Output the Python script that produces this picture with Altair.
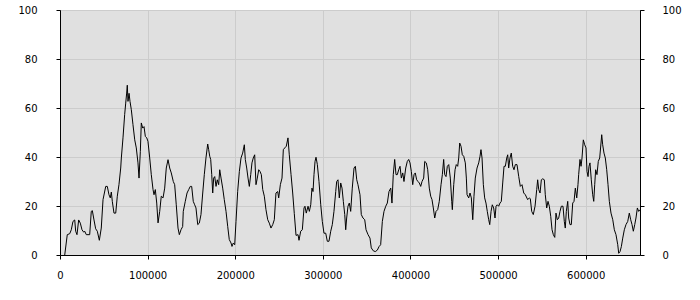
import altair as alt
import pandas as pd

xs = [5400, 8300, 11100, 12900, 14800, 16800, 17900, 19400, 21300, 23200, 25100, 27100, 28200, 30000, 33900,
      35700, 36900, 38800, 40700, 42600, 44900, 47100, 49100, 52200, 54000, 55900, 57400, 58600, 59700, 61600,
      63600, 65400, 67300, 69300, 70000, 71900, 73800, 75000, 76100, 76800, 77600, 78800, 79900, 81400, 83300,
      85300, 87100, 89000, 90200, 91700, 92800, 94400, 95900, 97400, 99000, 100400, 102400, 104200, 106200, 107300,
      108800, 110400, 111900, 113800, 115600, 117600, 119500, 121300, 123300, 125200, 127000, 129300, 130900, 132700, 134700,
      136200, 138100, 140000, 140700, 143000, 145000, 146900, 148700, 150300, 152100, 153700, 155200, 157200, 159000, 160900,
      162900, 164700, 166600, 168600, 169700, 170900, 172000, 173200, 174300, 175400, 176600, 178100, 179500, 181100, 182300,
      183800, 185700, 187500, 189500, 191400, 193200, 195200, 196300, 197800, 199400, 200900, 202800, 204700, 206600, 208500,
      210400, 211500, 213100, 214600, 216100, 217700, 219100, 220600, 222200, 223700, 225200, 226800, 228300, 229800, 231400,
      233200, 235100, 237100, 238900, 240800, 242800, 244600, 246500, 248500, 249600, 251500, 253400, 254900, 256500, 258300,
      260200, 261700, 263700, 265600, 267400, 269400, 271700, 272800, 274700, 276600, 278500, 279600, 281100, 283100, 284600,
      286200, 287600, 288800, 289900, 291100, 292200, 293700, 295600, 297600, 299400, 301300, 303300, 305100, 307000, 309000,
      310800, 312700, 314700, 315800, 317300, 318800, 320400, 321900, 323400, 325000, 326100, 327200, 328700, 330200, 331800,
      333600, 335600, 337100, 338700, 340100, 342400, 343900, 345800, 347800, 349300, 351600, 353800, 355300, 357600, 359900,
      362200, 364100, 366000, 367900, 369800, 371800, 373600, 375500, 377500, 378900, 380400, 382000, 383500, 385000, 386600,
      388100, 389600, 391200, 392600, 394600, 396400, 398000, 399500, 401000, 402600, 404100, 405500, 407100, 408600, 410100,
      411700, 413200, 415100, 416300, 418100, 419700, 421500, 423100, 424600, 426100, 427700, 429200, 431100, 432900, 434900,
      436400, 437900, 439100, 440600, 442100, 443700, 445500, 447100, 447800, 449400, 450900, 452300, 453900, 455100, 456200,
      457700, 459200, 460800, 462600, 463800, 464600, 466500, 468000, 469500, 471100, 472500, 474000, 476000, 477900, 479400,
      480500, 481700, 483200, 484700, 486200, 487700, 489300, 490500, 492000, 493400, 495000, 496500, 497700, 499100, 500700,
      502200, 503700, 505300, 506800, 508300, 509900, 511000, 512100, 513600, 515100, 516700, 518200, 519700, 521600, 523600,
      525400, 527300, 529300, 531100, 533800, 535700, 536800, 538400, 540200, 542200, 544100, 545200, 546400, 547900, 549400,
      551000, 552800, 553900, 555500, 557000, 558500, 560100, 561600, 563100, 564700, 566100, 567600, 569200, 570700, 572200,
      574100, 575600, 576700, 577900, 579500, 580600, 582100, 583600, 585200, 586700, 588200, 589800, 591200, 592000, 593500,
      594700, 595800, 597300, 598900, 600400, 601500, 602700, 603800, 604900, 606400, 608000, 609200, 610300, 611400, 612900,
      614400, 616000, 617500, 618300, 619400, 620900, 622400, 624000, 625500, 627000, 628900, 630900, 632700, 634600, 636600,
      637700, 639200, 640700, 642300, 644100, 646000, 648000, 649800, 651400, 652900, 654400, 656000, 657400, 659000, 660500,
      662000]

ys = [0, 8.3, 8.7, 10.3, 13.7, 14.3, 9.7, 8.3, 14.3, 13, 10.3, 9.3, 9.7, 8.3, 8.3,
      17.8, 18.1, 14.3, 10.7, 9.7, 6, 11, 22.6, 28, 28, 24.6, 23.3, 25.7, 21.9, 17.1,
      17.1, 24, 28.7, 35.5, 39.6, 47.8, 57.3, 62, 66.1, 69.3, 62.7, 66, 62.7, 59.3, 53.2,
      47, 43.7, 37.6, 31.4, 42.3, 53.9, 51.8, 52.4, 48.4, 47.8, 46.4, 39.6, 32.8, 26.7, 24.6,
      26.7, 21.2, 13.1, 17.8, 24, 23.3, 27.3, 35.5, 38.9, 35.5, 33.5, 30, 28.7, 20.5, 11,
      8.3, 10.3, 11.6, 17.8, 21.9, 25.3, 26.7, 28, 28, 21.9, 20.5, 19.2, 12.4, 13, 16.5,
      25.3, 32.8, 39.6, 45.3, 43, 40.3, 39, 32.8, 25.3, 31.4, 32, 28, 30.7, 28.7, 34.8,
      31.4, 27.3, 22.6, 17.8, 11.7, 6.3, 4.9, 3.5, 4.9, 4.2, 13.7, 26, 34.1, 39.6, 41.6,
      45, 39, 35.5, 31.4, 28, 32.8, 37.6, 39.6, 40.9, 28.7, 31.4, 34.8, 34.1, 32.8, 26.7,
      24, 18.5, 14.4, 13, 11, 12.4, 14.4, 25.3, 25.9, 23.3, 28.7, 31.4, 43, 43.7, 44.4,
      47.8, 40.9, 32.8, 25.3, 17, 8, 8.3, 6, 9.7, 10.3, 19.2, 19.9, 17.1, 19.9, 17.8,
      20.5, 27.3, 25.9, 32.8, 38.2, 39.9, 37, 30, 20.5, 13.7, 8.9, 8.9, 5.6, 5.6, 9.7,
      12.4, 17.8, 25.9, 30, 30.7, 23.3, 29.4, 27.3, 21.9, 16.5, 10.3, 15.1, 19.9, 21.2, 17.8,
      27.3, 35.5, 36.2, 30.7, 28.7, 24.6, 16.5, 15.1, 14.4, 10.3, 8.3, 6.9, 2.9, 1.7, 1.4,
      2, 3.4, 4.2, 13.7, 17.8, 19.9, 21.2, 25.9, 27.3, 21.2, 32.8, 39, 32.8, 32.8, 34.8,
      36.2, 31.4, 33.5, 30, 35.5, 38.2, 39, 37.6, 34.1, 28.7, 32.8, 33.5, 30.7, 30, 29.4,
      28, 30, 31.4, 38.2, 37.6, 34.8, 27.3, 24, 22.6, 19.2, 15.1, 17.8, 18.5, 21.9, 28.7,
      32.8, 39, 32.8, 32, 36.2, 36.9, 31.4, 21.9, 18.5, 28.7, 34.8, 36.9, 36.2, 39.6, 45.7,
      44.4, 40.9, 40.3, 37.6, 31.4, 24.6, 23.3, 25.3, 23.3, 14.4, 24, 31.4, 35.5, 37.6, 40.3,
      43, 39.6, 28.7, 23.3, 21.2, 17.8, 14.4, 12.4, 17.8, 20.5, 19.2, 15.1, 19.9, 20.5, 19.9,
      21.2, 21.9, 29.4, 36.2, 36.2, 39.6, 40.9, 35.5, 39.6, 41.6, 36.2, 34.8, 36.9, 36.9, 32,
      28, 28.7, 25.3, 24.6, 22.6, 23.3, 23, 17.8, 16.5, 19.9, 26.7, 30.7, 26.7, 25.3, 30.7,
      31.1, 30.7, 24.6, 19.2, 21.9, 19.9, 15.8, 10.3, 8.3, 7.2, 17.1, 14.4, 15.1, 17.8, 19.9,
      19.9, 13.7, 11, 17.8, 21.9, 15.1, 12.4, 12.4, 21.2, 21.9, 27.3, 23.3, 28.7, 32.8, 39,
      36.2, 39.6, 47, 45, 43.7, 34.1, 32, 36.2, 37.6, 30.7, 24.6, 21.9, 28.7, 34.8, 32.8,
      38.2, 39.6, 45.7, 49.1, 45, 41.6, 39.6, 34.8, 28.7, 21.9, 17.1, 14.4, 10.3, 8.3, 4.2,
      0.7, 1.4, 3.4, 6.9, 10.3, 12.4, 13.7, 17.1, 14.4, 12.4, 9.7, 12.4, 15.1, 19.2, 17.8,
      18.5]

x_ticks = [0, 100000, 200000, 300000, 400000, 500000, 600000]
y_ticks = [0, 20, 40, 60, 80, 100]

df = pd.DataFrame({"x": xs, "y": ys})

FONT = "DejaVu Sans"
axis_common = dict(
    domainColor="black", tickColor="black", tickSize=4, labelColor="black",
    labelFont=FONT, labelFontSize=10, titleFontSize=0,
)

xenc = alt.X("x:Q", scale=alt.Scale(domain=[0, 662000], nice=False, zero=False),
             axis=alt.Axis(values=x_ticks, title=None, labelPadding=11, grid=True,
                           gridColor="#cccccc", format="d", labelFlush=False, **axis_common))

base = alt.Chart(df)

line = base.mark_line(color="black", strokeWidth=1, interpolate="linear").encode(
    x=xenc,
    y=alt.Y("y:Q", scale=alt.Scale(domain=[0, 100], nice=False),
            axis=alt.Axis(values=y_ticks, title=None, orient="left", labelPadding=19,
                          grid=True, gridColor="#cccccc", **axis_common)),
)

right = base.mark_line(strokeOpacity=0).encode(
    x=xenc,
    y=alt.Y("y:Q", scale=alt.Scale(domain=[0, 100], nice=False),
            axis=alt.Axis(values=y_ticks, title=None, orient="right", labelPadding=18,
                          grid=False, **axis_common)),
)

chart = alt.layer(line, right).resolve_axis(y="independent").properties(
    width=580, height=245,
    autosize=alt.AutoSizeParams(type="none"),
    padding={"left": 60, "top": 10, "right": 60, "bottom": 45},
    background="white",
).configure_view(stroke="black", strokeWidth=1, fill="#e0e0e0")

chart.save("out.html", embed_options={"renderer": "svg", "actions": False})
